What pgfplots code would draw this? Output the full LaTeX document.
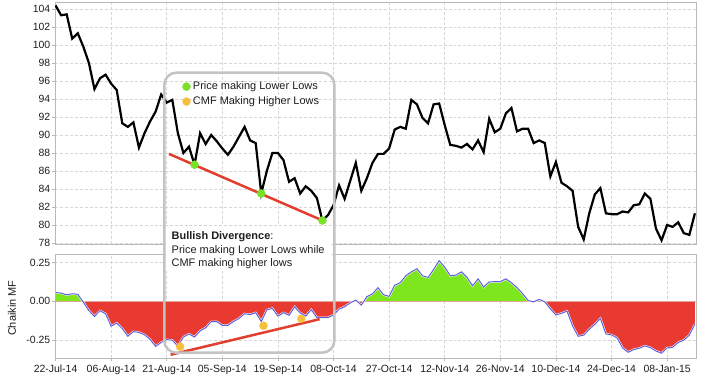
\documentclass[border=0pt]{standalone}
\usepackage{fontspec}
\setmainfont{Liberation Sans}
\usepackage{pgfplots}
\pgfplotsset{compat=1.18}
\usepackage{pgfplotstable}

\definecolor{gridc}{RGB}{215,215,215}
\definecolor{framec}{RGB}{185,185,185}
\definecolor{boxc}{RGB}{195,195,195}
\definecolor{dotgreen}{RGB}{120,226,40}
\definecolor{dotyellow}{RGB}{245,192,62}
\definecolor{trendred}{RGB}{226,62,46}
\definecolor{cmfred}{RGB}{232,58,48}
\definecolor{cmfgreen}{RGB}{126,230,28}
\definecolor{cmfblue}{RGB}{95,95,220}
\definecolor{zeroc}{RGB}{225,165,160}
\definecolor{txt}{RGB}{30,30,30}

\pgfplotstableread{
i p
0 104.4
1 103.3
2 103.4
3 100.7
4 101.3
5 99.8
6 98.0
7 95.1
8 96.3
9 96.7
10 95.7
11 95.0
12 91.3
13 90.9
14 91.4
15 88.6
16 90.2
17 91.5
18 92.6
19 94.5
20 93.6
21 93.9
22 90.2
23 88.0
24 88.7
25 86.7
26 90.2
27 89.0
28 90.0
29 89.3
30 88.5
31 87.8
32 88.7
33 89.8
34 90.9
35 89.4
36 89.1
37 83.5
38 86.0
39 88.0
40 88.0
41 87.2
42 84.8
43 85.2
44 83.5
45 84.3
46 83.8
47 83.0
48 80.5
49 81.1
50 82.2
51 84.4
52 82.9
53 84.9
54 86.9
55 83.8
56 85.2
57 86.9
58 87.9
59 87.9
60 88.5
61 90.6
62 90.9
63 90.7
64 93.9
65 93.4
66 91.9
67 91.3
68 93.4
69 93.5
70 91.1
71 88.9
72 88.8
73 88.6
74 89.0
75 88.4
76 89.4
77 88.1
78 91.8
79 90.3
80 90.7
81 92.4
82 93.0
83 90.4
84 90.7
85 90.7
86 89.1
87 89.4
88 89.1
89 85.4
90 87.0
91 84.7
92 84.3
93 83.8
94 79.8
95 78.4
96 81.3
97 83.4
98 84.1
99 81.3
100 81.2
101 81.2
102 81.5
103 81.4
104 82.2
105 82.3
106 83.5
107 82.9
108 79.6
109 78.3
110 80.0
111 79.8
112 80.3
113 79.1
114 78.9
115 81.3
}\pricetable

\pgfplotstableread{
i v
0 0.057
1 0.053
2 0.042
3 0.049
4 0.045
5 -0.005
6 -0.060
7 -0.097
8 -0.060
9 -0.080
10 -0.160
11 -0.140
12 -0.175
13 -0.225
14 -0.195
15 -0.200
16 -0.215
17 -0.245
18 -0.290
19 -0.265
20 -0.247
21 -0.250
22 -0.290
23 -0.230
24 -0.210
25 -0.230
26 -0.190
27 -0.170
28 -0.130
29 -0.130
30 -0.155
31 -0.155
32 -0.130
33 -0.110
34 -0.080
35 -0.085
36 -0.073
37 -0.130
38 -0.055
39 -0.045
40 -0.095
41 -0.073
42 -0.090
43 -0.035
44 -0.075
45 -0.095
46 -0.053
47 -0.105
48 -0.105
49 -0.105
50 -0.088
51 -0.050
52 -0.035
53 -0.010
54 0.008
55 -0.024
56 0.030
57 0.048
58 0.088
59 0.042
60 0.032
61 0.104
62 0.120
63 0.165
64 0.190
65 0.210
66 0.165
67 0.154
68 0.205
69 0.262
70 0.220
71 0.165
72 0.169
73 0.190
74 0.155
75 0.100
76 0.145
77 0.092
78 0.125
79 0.127
80 0.127
81 0.145
82 0.120
83 0.088
84 0.050
85 0.005
86 -0.003
87 0.013
88 -0.003
89 -0.048
90 -0.088
91 -0.077
92 -0.063
93 -0.158
94 -0.225
95 -0.218
96 -0.180
97 -0.148
98 -0.110
99 -0.210
100 -0.216
101 -0.235
102 -0.300
103 -0.328
104 -0.310
105 -0.302
106 -0.287
107 -0.298
108 -0.320
109 -0.334
110 -0.300
111 -0.296
112 -0.265
113 -0.250
114 -0.218
115 -0.146
}\cmftable

% closing points to the zero level, for the filled areas
\pgfplotstableread{
i v
115 0
0 0
}\closepts
\pgfplotstablevertcat{\cmffill}{\cmftable}
\pgfplotstablevertcat{\cmffill}{\closepts}

\pgfplotsset{
  common/.style={
    scale only axis, width=641bp, anchor=south west,
    xmin=-0.1, xmax=115.2, xtick={0,10,...,110},
    grid=major,
    major grid style={densely dashed, color=gridc, line width=0.5bp},
    axis line style={color=framec, line width=1bp},
    tick style={color=framec, line width=0.8bp},
    major tick length=3bp, tick align=outside, tick pos=left,
    ticklabel style={font=\fontsize{10.5}{12}\selectfont, color=txt},
    yticklabel style={inner xsep=1.5bp},
    /pgf/number format/assume math mode=true,
  },
  overlay/.style={scale only axis, width=641bp, anchor=south west,
    xmin=-0.1, xmax=115.2, hide axis},
  dotleg/.style={only marks, mark=*, mark size=4bp,
    legend image code/.code={\draw[##1, only marks] plot coordinates {(0bp,0bp)};}},
  trend/.style={color=trendred, line width=2.5bp},
}

\begin{document}
\begin{tikzpicture}
\path (0,0) rectangle (720bp,376bp);

% ---------- price panel ----------
\begin{axis}[common, at={(55bp,132bp)}, height=241.7bp,
  ymin=77.89, ymax=104.74, ytick={78,80,...,104},
  xticklabels={}, xtick style={draw=none},
  legend style={at={(0.1986,0.6756)}, anchor=north west, draw=none, fill=none,
    font=\fontsize{11}{12.5}\selectfont, text=txt, inner sep=0pt, row sep=3.5bp,
    nodes={inner xsep=2.5bp, inner ysep=1bp}},
  legend cell align=left]
\addplot[black, line width=2.2bp, forget plot] table[x=i, y=p]{\pricetable};
\addplot[trend, forget plot] coordinates {(20.4,87.9) (48.4,80.4)};
\addplot[dotleg, color=dotgreen] coordinates {(25,86.7) (37,83.5) (48,80.5)};
\addlegendentry{Price making Lower Lows}
\addlegendimage{dotleg, color=dotyellow}
\addlegendentry{CMF Making Higher Lows}
\end{axis}

% ---------- CMF panel: frame, grid, ticks ----------
\begin{axis}[common, at={(55bp,17.7bp)}, height=104.3bp,
  ymin=-0.367, ymax=0.305, ytick={-0.25,0,0.25},
  yticklabel style={/pgf/number format/.cd, fixed, fixed zerofill, precision=2},
  xticklabels={22-Jul-14,06-Aug-14,21-Aug-14,05-Sep-14,19-Sep-14,08-Oct-14,27-Oct-14,12-Nov-14,26-Nov-14,10-Dec-14,24-Dec-14,08-Jan-15},
  ylabel={Chaikin MF},
  ylabel style={at={(axis description cs:-0.067,0.48)}, anchor=center, font=\fontsize{11}{13}\selectfont, color=txt}]
\addplot[draw=none] coordinates {(0,0) (115,0)};
\end{axis}

% positive part (clipped to y >= 0)
\begin{axis}[overlay, at={(55bp,74.66bp)}, height=47.34bp, ymin=0, ymax=0.305]
\addplot[fill=cmfgreen, draw=none] table[x=i, y=v]{\cmffill};
\end{axis}

% negative part (clipped to y <= 0)
\begin{axis}[overlay, at={(55bp,17.7bp)}, height=56.96bp, ymin=-0.367, ymax=0]
\addplot[fill=cmfred, draw=none] table[x=i, y=v]{\cmffill};
\end{axis}

% line, trend and markers on top
\begin{axis}[overlay, at={(55bp,17.7bp)}, height=104.3bp, ymin=-0.367, ymax=0.305]
\addplot[zeroc, line width=1bp] coordinates {(-0.1,0) (115.2,0)};
\addplot[white, line width=2bp] table[x=i, y=v]{\cmftable};
\addplot[cmfblue, line width=1bp] table[x=i, y=v]{\cmftable};
\addplot[trend] coordinates {(20.7,-0.344) (47.5,-0.115)};
\addplot[only marks, mark=*, mark size=4bp, color=dotyellow] coordinates {(22.4,-0.292) (37.4,-0.157) (44.2,-0.112)};
\end{axis}

% ---------- annotation ----------
\fill[white] (166bp,106bp) rectangle (332bp,150bp);
\node[anchor=base west, inner sep=0pt, font=\fontsize{11}{12.5}\selectfont, text=txt] at (171.5bp,136.5bp) {\textbf{Bullish Divergence}:};
\node[anchor=base west, inner sep=0pt, font=\fontsize{11}{12.5}\selectfont, text=txt] at (171.5bp,122.9bp) {Price making Lower Lows while};
\node[anchor=base west, inner sep=0pt, font=\fontsize{11}{12.5}\selectfont, text=txt] at (171.5bp,109.5bp) {CMF making higher lows};
\draw[boxc, line width=2.5bp, rounded corners=12bp] (164.3bp,23.3bp) rectangle (334.3bp,303.3bp);
\end{tikzpicture}
\end{document}
